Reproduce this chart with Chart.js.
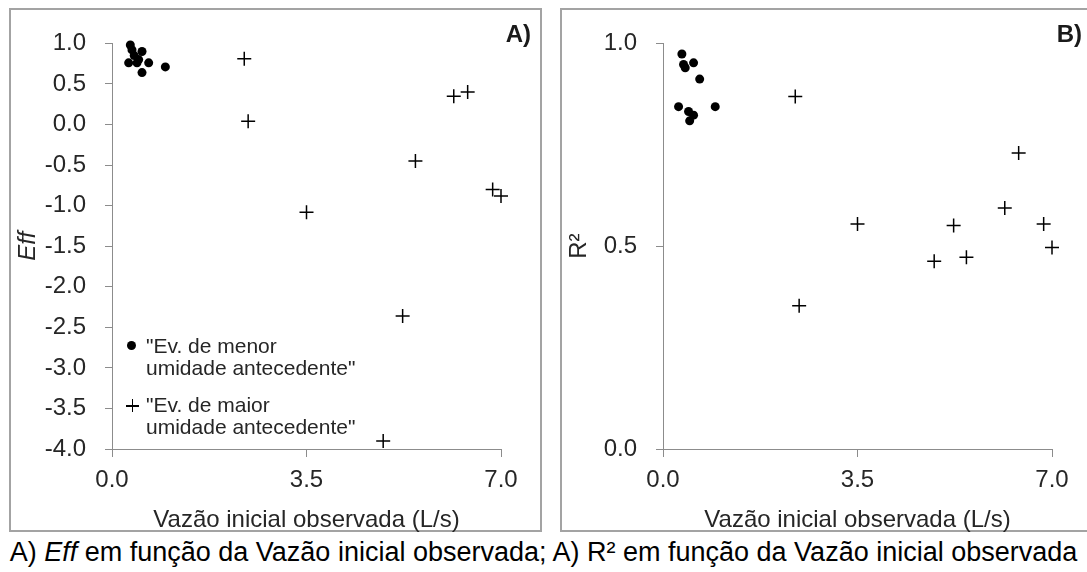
<!DOCTYPE html>
<html>
<head>
<meta charset="utf-8">
<script src="https://cdn.jsdelivr.net/npm/chart.js@4.4.0/dist/chart.umd.min.js"></script>
<style>
  body { margin: 0; width: 1087px; height: 572px; background: #fff; position: relative; overflow: hidden;
         font-family: "Liberation Sans", Arial, sans-serif; color: #262626; }
  .panel { position: absolute; top: 8px; width: 533px; height: 524px; border: 2px solid #a3a3a3; box-sizing: border-box; }
  canvas.plot { position: absolute; top: 10px; }
  .tag { position: absolute; top: 20px; font-size: 24px; line-height: 28px; font-weight: bold; color: #1a1a1a; }
  .leg { position: absolute; left: 146px; font-size: 21px; line-height: 22px; white-space: pre; }
  .caption { position: absolute; left: 0; top: 537px; width: 1087px; text-align: center; font-size: 27px; line-height: 30px; color: #000; }
</style>
</head>
<body>
<div class="panel" style="left:9px"></div>
<div class="panel" style="left:560px"></div>
<canvas id="chartA" class="plot" width="528" height="525" style="left:11px"></canvas>
<canvas id="chartB" class="plot" width="528" height="525" style="left:562px"></canvas>

<div class="tag" style="right:556px">A)</div>
<div class="tag" style="right:5px">B)</div>

<!-- legend of panel A -->
<div style="position:absolute;left:127px;top:341px;width:9px;height:9px;border-radius:50%;background:#000"></div>
<div class="leg" style="top:335px">"Ev. de menor
umidade antecedente"</div>
<div style="position:absolute;left:126px;top:405px;width:13px;height:1.5px;background:#000"></div>
<div style="position:absolute;left:131.5px;top:399px;width:1.5px;height:13px;background:#000"></div>
<div class="leg" style="top:394px">"Ev. de maior
umidade antecedente"</div>

<div class="caption">A) <i>Eff</i> em função da Vazão inicial observada; A) R² em função da Vazão inicial observada</div>

<script>
const xTicks = [0, 3.5, 7];
const effTicks = [-4, -3.5, -3, -2.5, -2, -1.5, -1, -0.5, 0, 0.5, 1];
const r2Ticks = [0, 0.5, 1];

// "Ev. de menor umidade antecedente"
const vazaoMenorA = [0.33, 0.36, 0.40, 0.54, 0.30, 0.45, 0.48, 0.66, 0.54, 0.96];
const effMenor    = [0.98, 0.92, 0.85, 0.90, 0.76, 0.76, 0.80, 0.76, 0.64, 0.71];
const vazaoMenorB = [0.34, 0.37, 0.40, 0.55, 0.66, 0.28, 0.46, 0.55, 0.48, 0.94];
const r2Menor     = [0.974, 0.948, 0.940, 0.952, 0.912, 0.844, 0.832, 0.823, 0.809, 0.844];

// "Ev. de maior umidade antecedente"
const vazaoMaior = [2.38, 2.45, 3.50, 4.88, 5.23, 5.46, 6.15, 6.40, 6.85, 7.00];
const effMaior   = [0.81, 0.04, -1.08, -3.90, -2.36, -0.45, 0.35, 0.40, -0.80, -0.88];
const r2Maior    = [0.869, 0.353, 0.555, 0.463, 0.551, 0.473, 0.594, 0.730, 0.555, 0.497];

const family = "'Liberation Sans', Arial, sans-serif";
const axisColor = '#8c8c8c';
const textColor = '#262626';

const pairs = (xs, ys) => xs.map((x, i) => ({ x, y: ys[i] }));

function makeChart(id, xDots, yDots, yCross, yTicks, yTitle, italic) {
  const yMin = yTicks[0], yMax = yTicks[yTicks.length - 1];
  return new Chart(document.getElementById(id), {
    type: 'scatter',
    data: {
      datasets: [
        {
          label: 'Ev. de menor umidade antecedente',
          data: pairs(xDots, yDots),
          pointStyle: 'circle',
          pointRadius: 4.5,
          backgroundColor: '#000',
          borderWidth: 0,
          clip: false,
        },
        {
          label: 'Ev. de maior umidade antecedente',
          data: pairs(vazaoMaior, yCross),
          pointStyle: 'cross',
          pointRadius: 7,
          borderColor: '#000',
          borderWidth: 1.5,
          clip: false,
        },
      ],
    },
    options: {
      responsive: false,
      animation: false,
      layout: { padding: { left: 0, top: 23, right: 38, bottom: 0 } },
      plugins: { legend: { display: false }, tooltip: { enabled: false } },
      scales: {
        x: {
          type: 'linear', min: 0, max: 7,
          afterBuildTicks: s => { s.ticks = xTicks.map(v => ({ value: v })); },
          afterFit: s => { s.height = 86; },
          grid: { drawOnChartArea: false, drawTicks: true, tickLength: 8, color: axisColor },
          border: { color: axisColor },
          ticks: { padding: 9, color: textColor, font: { size: 24, family }, maxRotation: 0, autoSkip: false,
                   callback: v => v.toFixed(1) },
          title: { display: true, text: 'Vazão inicial observada (L/s)', color: textColor,
                   font: { size: 24, family }, padding: { top: 0, bottom: 0 } },
        },
        y: {
          type: 'linear', min: yMin, max: yMax,
          afterBuildTicks: s => { s.ticks = yTicks.map(v => ({ value: v })); },
          afterFit: s => { s.width = 101; },
          grid: { drawOnChartArea: false, drawTicks: true, tickLength: 7, color: axisColor },
          border: { color: axisColor },
          ticks: { padding: 19, color: textColor, font: { size: 24, family }, autoSkip: false,
                   callback: v => v.toFixed(1) },
          title: { display: true, text: yTitle, color: textColor,
                   font: { size: 24, family, style: italic ? 'italic' : 'normal' }, padding: { top: 3, bottom: 0 } },
        },
      },
    },
  });
}

makeChart('chartA', vazaoMenorA, effMenor, effMaior, effTicks, 'Eff', true);
makeChart('chartB', vazaoMenorB, r2Menor, r2Maior, r2Ticks, 'R²', false);
</script>
</body>
</html>
